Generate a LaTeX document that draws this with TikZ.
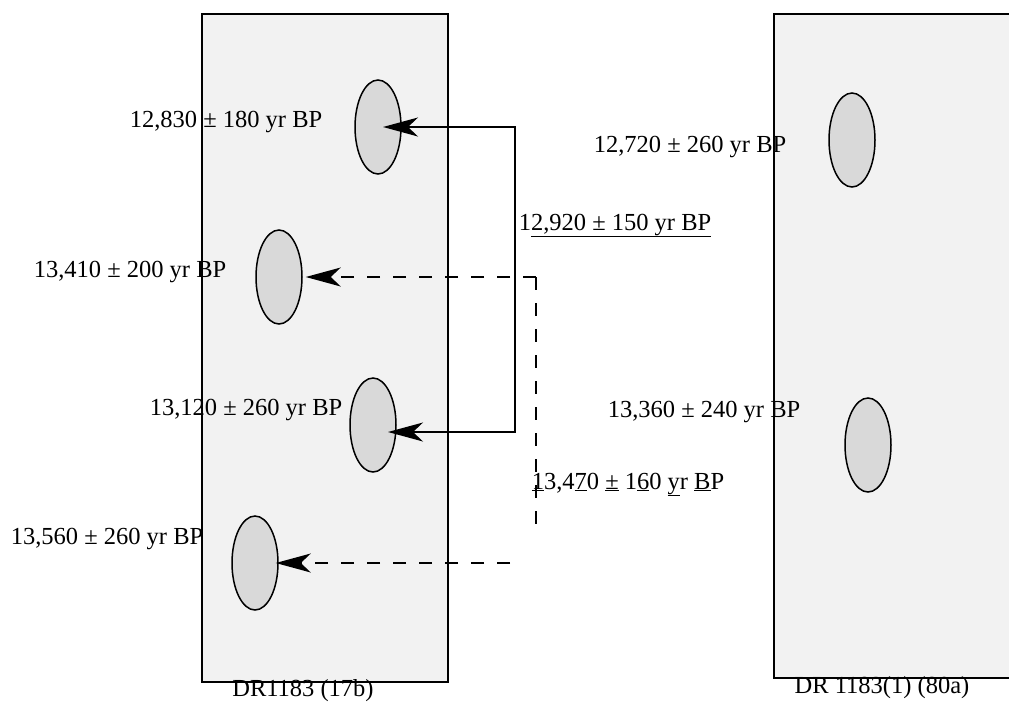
\documentclass[tikz,border=0pt]{standalone}
\usepackage{fontspec}
\setmainfont{Liberation Serif}
\usetikzlibrary{arrows.meta,shapes.geometric,calc}
\definecolor{coreFill}{HTML}{F2F2F2}
\definecolor{sampleFill}{HTML}{D9D9D9}
\begin{document}
\begin{tikzpicture}[
    x=1pt, y=-1pt,
    >={Stealth[length=35pt,width=19pt,inset=10pt]},
    core-box/.style={draw=black,line width=2pt,fill=coreFill},
    sample-node/.style={ellipse,draw=black,line width=1.5pt,fill=sampleFill,minimum width=46pt,minimum height=94pt,inner sep=0pt},
    date-label/.style={anchor=base,inner sep=0pt,font=\fontsize{24.5}{29}\selectfont},
    link/.style={line width=1.5pt},
    dash-link/.style={line width=1.5pt,dash pattern=on 13pt off 13pt},
]
    \useasboundingbox (0,0) rectangle (1009,702);

    % cores
    \filldraw[core-box] (202,14) rectangle (448,682);
    \fill[coreFill] (774,14) rectangle (1009,678);
    \draw[black,line width=2pt] (1009,14) -- (774,14) -- (774,678) -- (1009,678);

    % samples
    \node[sample-node] (s1) at (378,127) {};
    \node[sample-node] (s2) at (279,277) {};
    \node[sample-node] (s3) at (373,425) {};
    \node[sample-node] (s4) at (255,563) {};
    \node[sample-node] (r1) at (852,140) {};
    \node[sample-node] (r2) at (868,445) {};

    % dates
    \node[date-label] (d1) at (226,127) {12,830 ± 180 yr BP};
    \node[date-label] (d2) at (130,277) {13,410 ± 200 yr BP};
    \node[date-label] (d3) at (246,415) {13,120 ± 260 yr BP};
    \node[date-label] (d4) at (107,544) {13,560 ± 260 yr BP};
    \node[date-label] (d5) at (690,152) {12,720 ± 260 yr BP};
    \node[date-label] (d6) at (704,417) {13,360 ± 240 yr BP};
    \node[date-label] (m1) at (615,230) {1\underline{2,920 ± 150 yr BP}};
    \node[date-label] (m2) at (628,489) {\underline{1}3,4\underline{7}0 \underline{±} 1\underline{6}0 \underline{y}r \underline{B}P};
    \node[date-label] (c1) at (303,696) {DR1183 (17b)};
    \node[date-label] (c2) at (882,693) {DR 1183(1) (80a)};

    % links
    \coordinate (sol-top) at (515,127);
    \coordinate (sol-bot) at (515,432);
    \coordinate (dash-top) at (536,277);
    \coordinate (dash-end) at (536,537);
    \coordinate (dash-foot) at (510,563);

    \draw[link,<->] ($(s1.center)+(5,0)$) -- (sol-top) -- (sol-bot) -- ($(s3.center |- sol-bot)+(15,0)$);
    \draw[dash-link,->] (dash-top) -- ($(s2.east)+(3,0)$);
    \draw[dash-link] (dash-top) -- (dash-end);
    \draw[dash-link,->] (dash-foot) -- ($(s4.east)+(-3,0)$);
\end{tikzpicture}
\end{document}
